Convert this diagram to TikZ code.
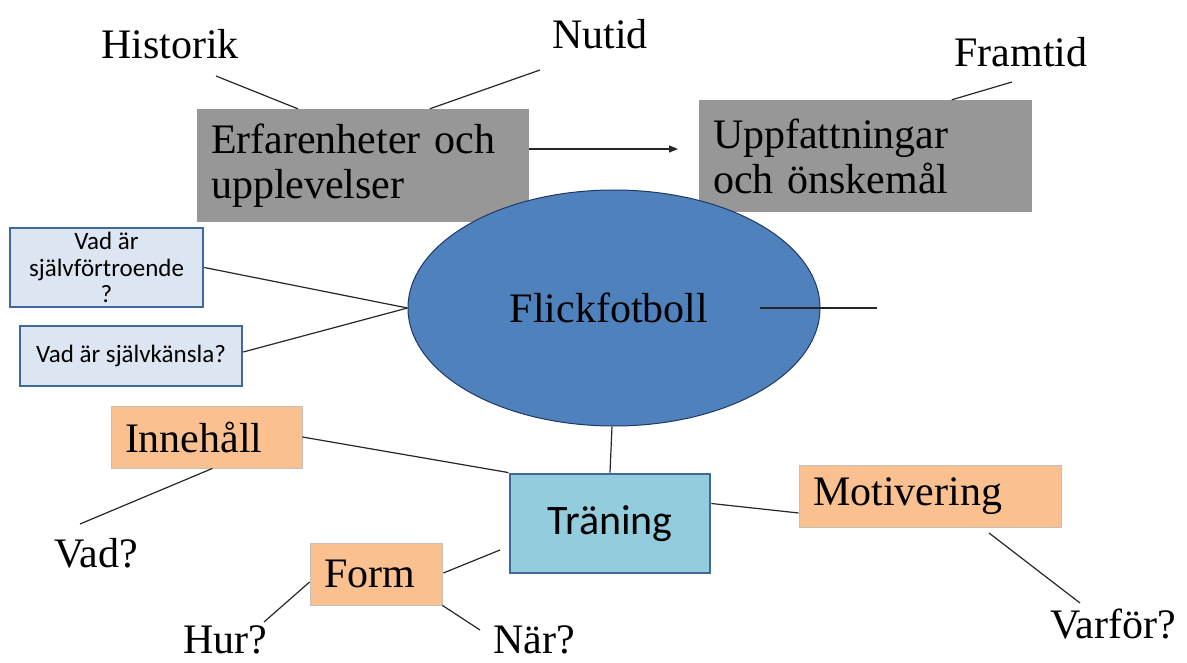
\documentclass[tikz,border=0pt]{standalone}
\usepackage{fontspec}
\usetikzlibrary{shapes.geometric,arrows.meta}
\newfontfamily\serfont{Liberation Serif}
\newfontfamily\calfont{Carlito}
\definecolor{graybox}{HTML}{979797}
\definecolor{ellfill}{HTML}{4F81BD}
\definecolor{ellline}{HTML}{1F3864}
\definecolor{lightblue}{HTML}{DCE6F2}
\definecolor{boxblue}{HTML}{41689A}
\definecolor{cyanfill}{HTML}{93CDDD}
\definecolor{peach}{HTML}{FAC090}
\definecolor{peachline}{HTML}{C8C0B8}
\tikzset{
  big/.style={font=\serfont\fontsize{42}{45}\selectfont},
  graynode/.style={big, fill=graybox, draw=none, align=left, inner xsep=14pt, inner ysep=0pt},
  qbox/.style={fill=lightblue, draw=boxblue, line width=2.5pt, align=center, inner sep=0pt,
     font=\calfont\fontsize{25}{26.5}\selectfont},
  peachbox/.style={big, fill=peach, draw=peachline, line width=0.8pt, align=left, inner xsep=14pt, inner ysep=0pt},
  lbl/.style={big, inner sep=0pt},
  conn/.style={line width=1.2pt, draw=black!85},
}
\begin{document}
\begin{tikzpicture}[x=1pt,y=-1pt]
\useasboundingbox (0,0) rectangle (1187,663);
% nodes
\node[graynode, minimum height=113pt, text width=304pt] (erf) at (363,165.5) {Erfarenheter och\\upplevelser};
\node[graynode, minimum height=112pt, text width=305pt] (upp) at (865.5,156) {Uppfattningar\\och önskemål};
\node[ellipse, fill=ellfill, draw=ellline, line width=1pt, minimum width=412pt, minimum height=236pt, inner sep=0pt, big] (ell) at (614,308) {Flickfotboll\hspace*{10pt}};
\node[qbox, minimum width=193pt, minimum height=79pt] (b1) at (106.5,267.5) {Vad är\\självförtroende\\?};
\node[qbox, minimum width=222pt, minimum height=60pt] (b2) at (131,356) {Vad är självkänsla?};
\node[peachbox, minimum height=62pt, text width=163pt] (inn) at (206.5,437) {Innehåll};
\node[fill=cyanfill, draw=boxblue, line width=2.8pt, minimum width=200pt, minimum height=99pt, inner sep=0pt, font=\calfont\fontsize{42}{45}\selectfont] (trn) at (610,523.5) {Träning};
\node[peachbox, minimum height=62pt, text width=234pt] (mot) at (930,496) {Motivering};
\node[peachbox, minimum height=62pt, text width=104pt] (frm) at (376,574) {Form};
% labels
\node[lbl] (his) at (170,44) {Historik};
\node[lbl] (nut) at (600,34) {Nutid};
\node[lbl] (fra) at (1021,52) {Framtid};
\node[lbl] (vad) at (96,553) {Vad?};
\node[lbl] (hur) at (225,640) {Hur?};
\node[lbl] (nar) at (534,640) {När?};
\node[lbl] (var) at (1113,624) {Varför?};
% free ends
\coordinate (hisE) at (216,76);
\coordinate (nutE) at (540,70);
\coordinate (fraE) at (1012,82);
\coordinate (arrE) at (678,149);
\coordinate (r1) at (760,308);
\coordinate (r2) at (877,308);
\coordinate (vadE) at (80,524);
\coordinate (frmE) at (500,550);
\coordinate (hurE) at (264,622);
\coordinate (narE) at (480,630);
\coordinate (varE) at (1080,603);
\coordinate (motE) at (989,533);
% connectors
\draw[conn] (hisE) -- ([xshift=101pt]erf.north west);
\draw[conn] (nutE) -- ([xshift=233pt]erf.north west);
\draw[conn] (fraE) -- ([xshift=253pt]upp.north west);
\draw[conn, -{Triangle[length=9pt,width=7pt]}] ([yshift=16.5pt]erf.east) -- (arrE);
\draw[conn] (r1) -- (r2);
\draw[conn] (b1.east) -- (ell.west);
\draw[conn] ([yshift=4pt]b2.east) -- (ell.west);
\draw[conn] (inn.east) -- (trn.north west);
\draw[conn] ([xshift=6pt]inn.south) -- (vadE);
\draw[conn] ([xshift=-2pt]ell.south) -- (trn.north);
\draw[conn] ([yshift=20pt]trn.east) -- ([yshift=-17pt]mot.west);
\draw[conn] (motE) -- (varE);
\draw[conn] ([xshift=1pt,yshift=1pt]frm.east) -- (frmE);
\draw[conn] ([yshift=-8pt]frm.west) -- (hurE);
\draw[conn] (frm.south east) -- (narE);
\end{tikzpicture}
\end{document}
